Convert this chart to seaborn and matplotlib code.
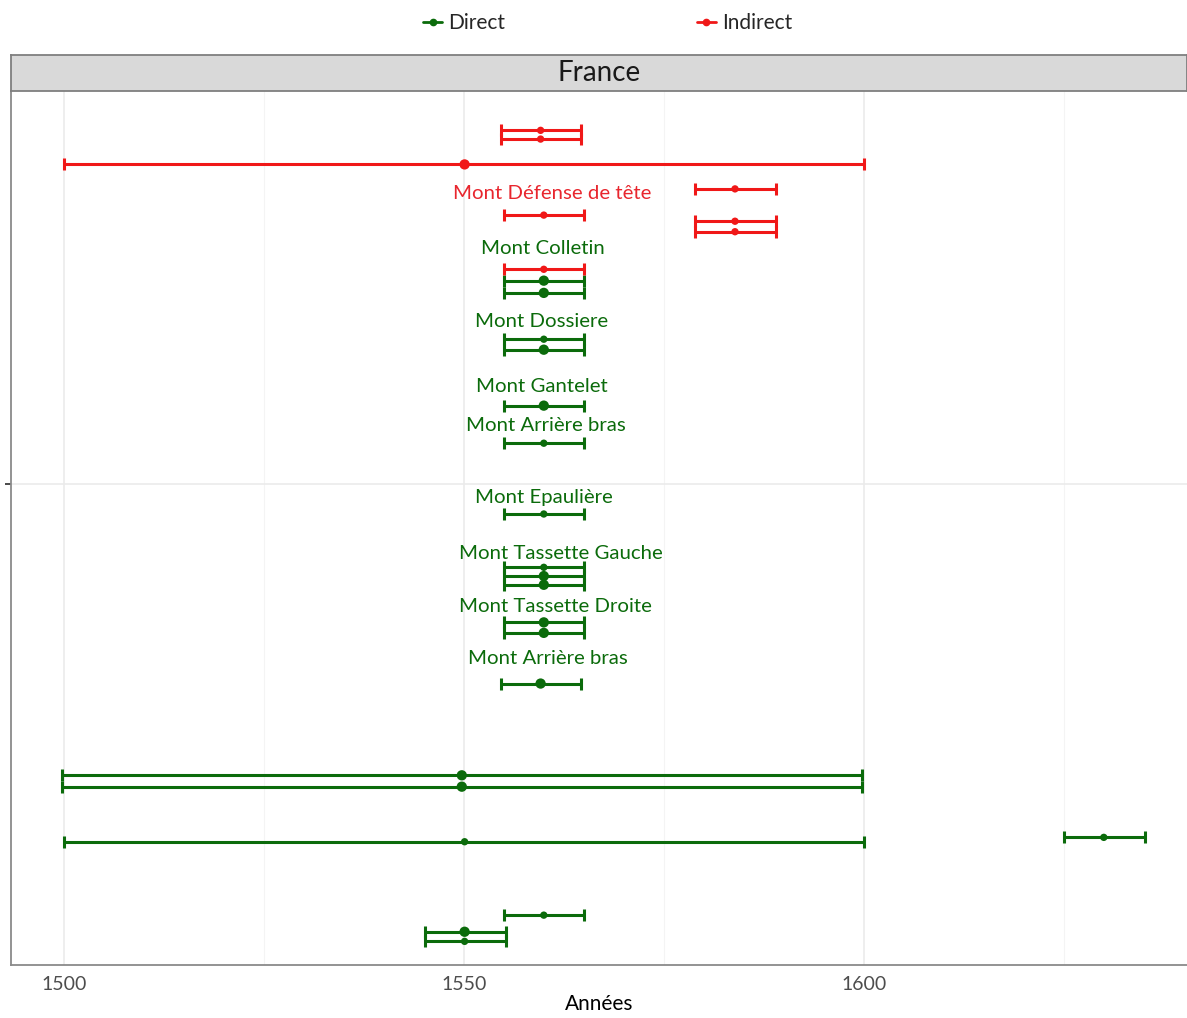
import matplotlib
matplotlib.use("Agg")
import matplotlib.pyplot as plt
from matplotlib.lines import Line2D
from matplotlib.ticker import MultipleLocator
import seaborn as sns
import pandas as pd

# intervals (years): type, y position, centre, lower, upper, point size
types = ["Indirect"] * 8 + ["Direct"] * 20
ypos = [95.5, 94.5, 91.6, 88.8, 85.8, 85.1, 83.9, 79.6,
        78.3, 76.9, 71.6, 70.4, 64.0, 59.7, 51.6, 45.5, 44.5, 43.5, 39.2, 38.0,
        32.2, 21.7, 20.4, 14.6, 14.1, 5.7, 3.8, 2.7]
centre = [1559.6, 1559.6, 1550.1, 1583.9, 1560, 1583.9, 1583.9, 1560,
          1560, 1560, 1560, 1560, 1560, 1560, 1560, 1560, 1560, 1560, 1560, 1560,
          1559.6, 1549.75, 1549.75, 1630, 1550.1, 1560, 1550.1, 1550.1]
lower = [1554.6, 1554.6, 1500, 1578.9, 1555, 1578.9, 1578.9, 1555,
         1555, 1555, 1555, 1555, 1555, 1555, 1555, 1555, 1555, 1555, 1555, 1555,
         1554.6, 1499.75, 1499.75, 1625, 1500, 1555, 1545.1, 1545.1]
upper = [1564.7, 1564.7, 1600, 1589, 1565, 1589, 1589, 1565,
         1565, 1565, 1565, 1565, 1565, 1565, 1565, 1565, 1565, 1565, 1565, 1565,
         1564.7, 1599.75, 1599.75, 1635.1, 1600, 1565, 1555.25, 1555.25]
taille = ["petit", "petit", "grand", "petit", "petit", "petit", "petit", "petit",
          "grand", "grand", "petit", "grand", "grand", "petit", "petit", "petit", "grand", "grand", "grand", "grand",
          "grand", "grand", "grand", "petit", "petit", "petit", "grand", "petit"]

# piece labels
labels = ["Mont Défense de tête", "Mont Colletin", "Mont Dossiere", "Mont Gantelet",
          "Mont Arrière bras", "Mont Epaulière", "Mont Tassette Gauche",
          "Mont Tassette Droite", "Mont Arrière bras"]
label_x = [1561.1, 1559.9, 1559.75, 1559.75, 1560.25, 1560, 1562.1, 1561.4, 1560.5]
label_y = [88.3, 82.0, 73.6, 66.2, 61.7, 53.5, 47.1, 41.0, 35.1]
label_type = ["Indirect"] + ["Direct"] * 8

df = pd.DataFrame({"type": types, "y": ypos, "centre": centre,
                   "lower": lower, "upper": upper, "taille": taille})

colors = {"Direct": "#0B6B0B", "Indirect": "#F01818"}
text_colors = {"Direct": "#0B6B0B", "Indirect": "#E8262E"}

sns.set_theme(style="whitegrid")
plt.rcParams["font.family"] = ["Lato", "DejaVu Sans"]

fig = plt.figure(figsize=(11.87, 10.18), dpi=100)
ax = fig.add_axes([11 / 1187, 0.0521, 1 - 11 / 1187, 0.8585])
ax.set_facecolor("white")

for t, sub in df.groupby("type"):
    ax.errorbar(sub["centre"], sub["y"],
                xerr=[sub["centre"] - sub["lower"], sub["upper"] - sub["centre"]],
                fmt="none", ecolor=colors[t], elinewidth=2.2, capsize=4.5,
                capthick=2.2, zorder=2)

sns.scatterplot(data=df, x="centre", y="y", hue="type", palette=colors,
                size="taille", sizes={"grand": 55, "petit": 28},
                edgecolor="none", legend=False, ax=ax, zorder=3)

for txt, lx, ly, lt in zip(labels, label_x, label_y, label_type):
    ax.text(lx, ly, txt, color=text_colors[lt], fontsize=14.7,
            ha="center", va="center", zorder=4)

ax.set_xlim(1493.4, 1640.4)
ax.set_ylim(0, 100)
ax.xaxis.set_major_locator(MultipleLocator(50))
ax.xaxis.set_minor_locator(MultipleLocator(25))
ax.set_yticks([55])
ax.set_yticklabels([""])
ax.grid(which="major", color="#EBEBEB", lw=1.2)
ax.grid(which="minor", axis="x", color="#F4F4F4", lw=0.8)
ax.tick_params(axis="x", which="major", length=4, color="#888888",
               labelsize=14, labelcolor="#4D4D4D", pad=4)
ax.tick_params(axis="y", which="major", length=4, color="#333333", left=True)
ax.tick_params(which="minor", length=0)
for side in ["left", "bottom"]:
    ax.spines[side].set_color("#8A8A8A")
    ax.spines[side].set_linewidth(1.3)
for side in ["top", "right"]:
    ax.spines[side].set_visible(False)
ax.set_xlabel("Années", fontsize=15, color="black", labelpad=1)
ax.set_ylabel("")

# facet strip
strip = fig.add_axes([11 / 1187, 0.9106, 1 - 11 / 1187, 0.0354])
strip.set_facecolor("#D9D9D9")
strip.set_xticks([])
strip.set_yticks([])
for s in strip.spines.values():
    s.set_color("#7F7F7F")
    s.set_linewidth(1.3)
strip.text(0.5, 0.5, "France", ha="center", va="center", fontsize=20,
           color="#1A1A1A", transform=strip.transAxes)

handles = [Line2D([], [], color=colors["Direct"], lw=2, marker="o", markersize=4.5),
           Line2D([], [], color=colors["Indirect"], lw=2, marker="o", markersize=4.5)]
fig.legend(handles, ["Direct", "Indirect"], loc="center", bbox_to_anchor=(0.512, 0.977),
           ncol=2, frameon=False, fontsize=15, handlelength=0.9, handletextpad=0.3,
           columnspacing=9.2)

fig.savefig("out.png", dpi=100)
